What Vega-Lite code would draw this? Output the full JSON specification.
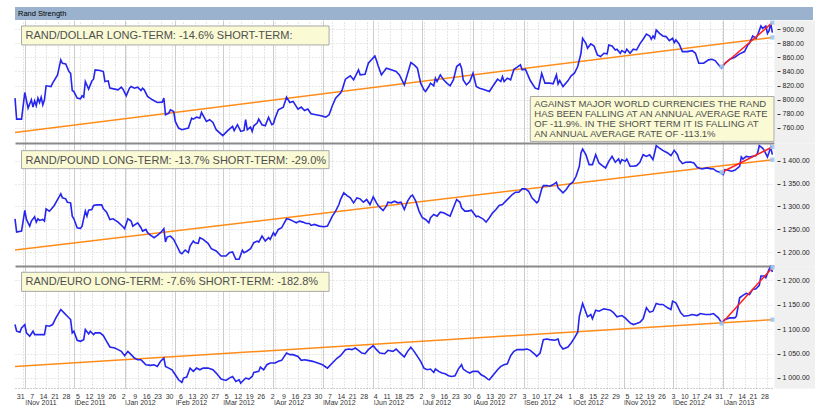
{
"$schema": "https://vega.github.io/schema/vega-lite/v6.json",
"background": "#FFFFFF",
"padding": {"left": 11, "top": 7, "right": 0, "bottom": 0},
"spacing": 0,
"bounds": "flush",
"config": {"font": "Liberation Sans", "view": {"stroke": null}},
"params": [
 {"name": "wk", "expr": "sequence(utc(2011,9,31), utc(2013,0,29), 604800000)"},
 {"name": "mo", "expr": "[utc(2011,10,1),utc(2011,11,1),utc(2012,0,1),utc(2012,1,1),utc(2012,2,1),utc(2012,3,1),utc(2012,4,1),utc(2012,5,1),utc(2012,6,1),utc(2012,7,1),utc(2012,8,1),utc(2012,9,1),utc(2012,10,1),utc(2012,11,1),utc(2013,0,1)]"},
 {"name": "gr", "expr": "[utc(2011,9,31),utc(2011,10,1),utc(2011,10,7),utc(2011,10,14),utc(2011,10,21),utc(2011,10,28),utc(2011,11,1),utc(2011,11,5),utc(2011,11,12),utc(2011,11,19),utc(2011,11,26),utc(2012,0,1),utc(2012,0,2),utc(2012,0,9),utc(2012,0,16),utc(2012,0,23),utc(2012,0,30),utc(2012,1,1),utc(2012,1,6),utc(2012,1,13),utc(2012,1,20),utc(2012,1,27),utc(2012,2,1),utc(2012,2,5),utc(2012,2,12),utc(2012,2,19),utc(2012,2,26),utc(2012,3,1),utc(2012,3,2),utc(2012,3,9),utc(2012,3,16),utc(2012,3,23),utc(2012,3,30),utc(2012,4,1),utc(2012,4,7),utc(2012,4,14),utc(2012,4,21),utc(2012,4,28),utc(2012,5,1),utc(2012,5,4),utc(2012,5,11),utc(2012,5,18),utc(2012,5,25),utc(2012,6,1),utc(2012,6,2),utc(2012,6,9),utc(2012,6,16),utc(2012,6,23),utc(2012,6,30),utc(2012,7,1),utc(2012,7,6),utc(2012,7,13),utc(2012,7,20),utc(2012,7,27),utc(2012,8,1),utc(2012,8,3),utc(2012,8,10),utc(2012,8,17),utc(2012,8,24),utc(2012,9,1),utc(2012,9,8),utc(2012,9,15),utc(2012,9,22),utc(2012,9,29),utc(2012,10,1),utc(2012,10,5),utc(2012,10,12),utc(2012,10,19),utc(2012,10,26),utc(2012,11,1),utc(2012,11,3),utc(2012,11,10),utc(2012,11,17),utc(2012,11,24),utc(2012,11,31),utc(2013,0,1),utc(2013,0,7),utc(2013,0,14),utc(2013,0,21),utc(2013,0,28)]"}
],
"datasets": {
 "usd": [
  {"d":"2011-10-26","v":802.1},{"d":"2011-10-27","v":772.3},{"d":"2011-10-30","v":772.3},{"d":"2011-11-01","v":810.1},{"d":"2011-11-03","v":787.9},{"d":"2011-11-05","v":799.7},{"d":"2011-11-06","v":789.3},{"d":"2011-11-07","v":798.3},{"d":"2011-11-08","v":791.2},{"d":"2011-11-09","v":802.1},{"d":"2011-11-10","v":795.9},{"d":"2011-11-11","v":803.5},{"d":"2011-11-12","v":792.6},{"d":"2011-11-13","v":799.7},{"d":"2011-11-14","v":819.6},{"d":"2011-11-17","v":818.6},{"d":"2011-11-18","v":823.4},{"d":"2011-11-21","v":835.2},{"d":"2011-11-23","v":856.5},{"d":"2011-11-24","v":851.7},{"d":"2011-11-26","v":850.8},{"d":"2011-11-28","v":839.9},{"d":"2011-11-29","v":837.5},{"d":"2011-11-30","v":813.0},{"d":"2011-12-01","v":811.5},{"d":"2011-12-03","v":802.1},{"d":"2011-12-05","v":801.1},{"d":"2011-12-06","v":805.4},{"d":"2011-12-07","v":803.5},{"d":"2011-12-08","v":825.7},{"d":"2011-12-10","v":814.9},{"d":"2011-12-12","v":826.7},{"d":"2011-12-13","v":829.0},{"d":"2011-12-14","v":842.3},{"d":"2011-12-17","v":841.3},{"d":"2011-12-19","v":839.9},{"d":"2011-12-20","v":825.7},{"d":"2011-12-22","v":826.7},{"d":"2011-12-23","v":816.3},{"d":"2011-12-26","v":814.9},{"d":"2011-12-28","v":813.9},{"d":"2011-12-30","v":817.7},{"d":"2011-12-31","v":814.9},{"d":"2012-01-02","v":805.4},{"d":"2012-01-04","v":816.3},{"d":"2012-01-05","v":818.6},{"d":"2012-01-07","v":816.3},{"d":"2012-01-09","v":817.7},{"d":"2012-01-11","v":813.0},{"d":"2012-01-12","v":816.3},{"d":"2012-01-13","v":813.9},{"d":"2012-01-15","v":804.5},{"d":"2012-01-18","v":799.7},{"d":"2012-01-21","v":795.9},{"d":"2012-01-24","v":796.4},{"d":"2012-01-25","v":802.1},{"d":"2012-01-26","v":778.4},{"d":"2012-01-28","v":780.8},{"d":"2012-01-29","v":785.5},{"d":"2012-01-31","v":783.2},{"d":"2012-02-01","v":769.0},{"d":"2012-02-03","v":759.5},{"d":"2012-02-05","v":757.2},{"d":"2012-02-09","v":759.5},{"d":"2012-02-11","v":773.7},{"d":"2012-02-12","v":772.3},{"d":"2012-02-14","v":775.1},{"d":"2012-02-16","v":773.7},{"d":"2012-02-17","v":781.8},{"d":"2012-02-20","v":769.0},{"d":"2012-02-22","v":771.4},{"d":"2012-02-24","v":767.6},{"d":"2012-02-26","v":757.2},{"d":"2012-03-01","v":748.7},{"d":"2012-03-03","v":753.4},{"d":"2012-03-04","v":755.8},{"d":"2012-03-07","v":761.9},{"d":"2012-03-08","v":755.8},{"d":"2012-03-10","v":764.3},{"d":"2012-03-12","v":754.8},{"d":"2012-03-14","v":756.2},{"d":"2012-03-15","v":771.4},{"d":"2012-03-16","v":757.2},{"d":"2012-03-18","v":761.0},{"d":"2012-03-19","v":754.8},{"d":"2012-03-20","v":762.8},{"d":"2012-03-22","v":766.6},{"d":"2012-03-23","v":772.3},{"d":"2012-03-25","v":764.3},{"d":"2012-03-27","v":762.8},{"d":"2012-03-29","v":774.7},{"d":"2012-03-31","v":764.3},{"d":"2012-04-01","v":765.7},{"d":"2012-04-02","v":773.7},{"d":"2012-04-04","v":785.5},{"d":"2012-04-07","v":789.3},{"d":"2012-04-09","v":803.5},{"d":"2012-04-11","v":795.9},{"d":"2012-04-13","v":797.4},{"d":"2012-04-16","v":786.5},{"d":"2012-04-18","v":789.3},{"d":"2012-04-20","v":784.6},{"d":"2012-04-22","v":786.5},{"d":"2012-04-24","v":779.9},{"d":"2012-04-27","v":778.4},{"d":"2012-04-30","v":777.0},{"d":"2012-05-03","v":775.1},{"d":"2012-05-05","v":778.4},{"d":"2012-05-07","v":791.2},{"d":"2012-05-09","v":802.1},{"d":"2012-05-12","v":809.2},{"d":"2012-05-13","v":813.9},{"d":"2012-05-15","v":829.0},{"d":"2012-05-18","v":833.8},{"d":"2012-05-20","v":828.1},{"d":"2012-05-23","v":842.3},{"d":"2012-05-24","v":835.2},{"d":"2012-05-27","v":836.1},{"d":"2012-05-29","v":851.7},{"d":"2012-06-02","v":862.1},{"d":"2012-06-03","v":855.5},{"d":"2012-06-04","v":848.0},{"d":"2012-06-06","v":835.2},{"d":"2012-06-09","v":844.6},{"d":"2012-06-12","v":842.3},{"d":"2012-06-15","v":839.9},{"d":"2012-06-17","v":835.2},{"d":"2012-06-20","v":821.0},{"d":"2012-06-24","v":852.7},{"d":"2012-06-26","v":849.4},{"d":"2012-06-28","v":844.6},{"d":"2012-06-30","v":823.4},{"d":"2012-07-02","v":813.9},{"d":"2012-07-03","v":811.5},{"d":"2012-07-05","v":818.6},{"d":"2012-07-06","v":823.4},{"d":"2012-07-08","v":819.6},{"d":"2012-07-09","v":830.5},{"d":"2012-07-10","v":825.7},{"d":"2012-07-12","v":835.2},{"d":"2012-07-14","v":828.1},{"d":"2012-07-16","v":823.4},{"d":"2012-07-18","v":819.6},{"d":"2012-07-20","v":828.1},{"d":"2012-07-22","v":847.0},{"d":"2012-07-24","v":850.8},{"d":"2012-07-25","v":844.6},{"d":"2012-07-26","v":828.1},{"d":"2012-07-28","v":821.0},{"d":"2012-07-30","v":825.7},{"d":"2012-08-01","v":837.5},{"d":"2012-08-03","v":818.6},{"d":"2012-08-05","v":816.3},{"d":"2012-08-08","v":813.9},{"d":"2012-08-11","v":811.5},{"d":"2012-08-13","v":818.6},{"d":"2012-08-16","v":829.0},{"d":"2012-08-18","v":825.7},{"d":"2012-08-19","v":832.8},{"d":"2012-08-20","v":825.7},{"d":"2012-08-22","v":830.5},{"d":"2012-08-24","v":828.1},{"d":"2012-08-26","v":843.2},{"d":"2012-08-28","v":846.1},{"d":"2012-08-30","v":849.4},{"d":"2012-08-31","v":842.3},{"d":"2012-09-02","v":843.2},{"d":"2012-09-05","v":827.1},{"d":"2012-09-08","v":816.3},{"d":"2012-09-10","v":814.9},{"d":"2012-09-12","v":837.5},{"d":"2012-09-14","v":823.4},{"d":"2012-09-17","v":823.4},{"d":"2012-09-19","v":822.4},{"d":"2012-09-21","v":835.2},{"d":"2012-09-22","v":822.4},{"d":"2012-09-23","v":827.1},{"d":"2012-09-25","v":818.6},{"d":"2012-09-28","v":826.7},{"d":"2012-09-30","v":833.8},{"d":"2012-10-02","v":837.5},{"d":"2012-10-04","v":847.0},{"d":"2012-10-06","v":865.9},{"d":"2012-10-07","v":887.2},{"d":"2012-10-09","v":880.1},{"d":"2012-10-10","v":873.0},{"d":"2012-10-12","v":879.2},{"d":"2012-10-14","v":876.3},{"d":"2012-10-16","v":863.6},{"d":"2012-10-18","v":861.2},{"d":"2012-10-20","v":865.9},{"d":"2012-10-22","v":865.0},{"d":"2012-10-23","v":877.7},{"d":"2012-10-25","v":876.3},{"d":"2012-10-27","v":870.6},{"d":"2012-10-28","v":871.6},{"d":"2012-10-30","v":865.9},{"d":"2012-10-31","v":869.7},{"d":"2012-11-02","v":866.9},{"d":"2012-11-03","v":871.6},{"d":"2012-11-05","v":865.9},{"d":"2012-11-07","v":871.6},{"d":"2012-11-09","v":870.6},{"d":"2012-11-11","v":879.2},{"d":"2012-11-13","v":885.8},{"d":"2012-11-15","v":893.3},{"d":"2012-11-17","v":890.5},{"d":"2012-11-18","v":885.8},{"d":"2012-11-19","v":890.5},{"d":"2012-11-20","v":887.2},{"d":"2012-11-21","v":899.0},{"d":"2012-11-23","v":894.3},{"d":"2012-11-25","v":890.5},{"d":"2012-11-27","v":889.6},{"d":"2012-11-29","v":883.9},{"d":"2012-12-01","v":887.2},{"d":"2012-12-02","v":881.0},{"d":"2012-12-03","v":884.8},{"d":"2012-12-05","v":879.2},{"d":"2012-12-07","v":868.3},{"d":"2012-12-10","v":868.3},{"d":"2012-12-13","v":869.7},{"d":"2012-12-15","v":865.9},{"d":"2012-12-17","v":851.7},{"d":"2012-12-20","v":851.7},{"d":"2012-12-23","v":856.5},{"d":"2012-12-25","v":857.4},{"d":"2012-12-27","v":855.5},{"d":"2012-12-30","v":847.0},{"d":"2012-12-31","v":844.6},{"d":"2013-01-02","v":851.7},{"d":"2013-01-05","v":857.4},{"d":"2013-01-08","v":860.2},{"d":"2013-01-11","v":865.0},{"d":"2013-01-14","v":868.3},{"d":"2013-01-16","v":877.7},{"d":"2013-01-17","v":880.1},{"d":"2013-01-19","v":890.5},{"d":"2013-01-21","v":887.2},{"d":"2013-01-22","v":891.9},{"d":"2013-01-24","v":904.7},{"d":"2013-01-25","v":901.4},{"d":"2013-01-27","v":904.7},{"d":"2013-01-28","v":894.3},{"d":"2013-01-29","v":898.1},{"d":"2013-01-30","v":908.5},{"d":"2013-01-31","v":895.2}
 ],
 "gbp": [
  {"d":"2011-10-26","v":1273.2},{"d":"2011-10-27","v":1244.2},{"d":"2011-10-30","v":1246.4},{"d":"2011-11-01","v":1291.3},{"d":"2011-11-02","v":1271.7},{"d":"2011-11-04","v":1257.2},{"d":"2011-11-05","v":1268.1},{"d":"2011-11-07","v":1277.5},{"d":"2011-11-08","v":1265.9},{"d":"2011-11-09","v":1273.2},{"d":"2011-11-10","v":1269.6},{"d":"2011-11-12","v":1271.7},{"d":"2011-11-13","v":1268.1},{"d":"2011-11-14","v":1294.9},{"d":"2011-11-16","v":1289.9},{"d":"2011-11-17","v":1293.5},{"d":"2011-11-19","v":1302.2},{"d":"2011-11-21","v":1315.2},{"d":"2011-11-23","v":1327.5},{"d":"2011-11-24","v":1318.8},{"d":"2011-11-26","v":1316.7},{"d":"2011-11-27","v":1309.4},{"d":"2011-11-29","v":1308.0},{"d":"2011-11-30","v":1279.0},{"d":"2011-12-01","v":1273.2},{"d":"2011-12-03","v":1253.6},{"d":"2011-12-05","v":1252.2},{"d":"2011-12-06","v":1257.2},{"d":"2011-12-08","v":1289.9},{"d":"2011-12-09","v":1279.0},{"d":"2011-12-10","v":1292.0},{"d":"2011-12-12","v":1293.5},{"d":"2011-12-13","v":1302.2},{"d":"2011-12-15","v":1303.6},{"d":"2011-12-18","v":1303.6},{"d":"2011-12-19","v":1294.9},{"d":"2011-12-21","v":1287.7},{"d":"2011-12-23","v":1271.7},{"d":"2011-12-25","v":1273.2},{"d":"2011-12-28","v":1265.9},{"d":"2011-12-31","v":1255.8},{"d":"2012-01-01","v":1251.5},{"d":"2012-01-03","v":1273.2},{"d":"2012-01-05","v":1268.1},{"d":"2012-01-06","v":1257.2},{"d":"2012-01-09","v":1264.5},{"d":"2012-01-11","v":1253.6},{"d":"2012-01-12","v":1246.4},{"d":"2012-01-14","v":1250.0},{"d":"2012-01-15","v":1242.8},{"d":"2012-01-17","v":1237.0},{"d":"2012-01-19","v":1231.9},{"d":"2012-01-21","v":1237.0},{"d":"2012-01-23","v":1242.8},{"d":"2012-01-25","v":1251.5},{"d":"2012-01-26","v":1222.5},{"d":"2012-01-27","v":1233.3},{"d":"2012-01-29","v":1235.5},{"d":"2012-01-31","v":1228.3},{"d":"2012-02-02","v":1213.8},{"d":"2012-02-04","v":1199.3},{"d":"2012-02-05","v":1197.1},{"d":"2012-02-07","v":1205.1},{"d":"2012-02-09","v":1199.3},{"d":"2012-02-10","v":1213.8},{"d":"2012-02-12","v":1224.6},{"d":"2012-02-13","v":1221.0},{"d":"2012-02-15","v":1219.6},{"d":"2012-02-16","v":1231.9},{"d":"2012-02-18","v":1228.3},{"d":"2012-02-21","v":1219.6},{"d":"2012-02-23","v":1208.0},{"d":"2012-02-26","v":1202.9},{"d":"2012-02-29","v":1192.0},{"d":"2012-03-03","v":1192.0},{"d":"2012-03-05","v":1199.3},{"d":"2012-03-07","v":1200.7},{"d":"2012-03-09","v":1184.8},{"d":"2012-03-11","v":1184.8},{"d":"2012-03-13","v":1204.4},{"d":"2012-03-14","v":1199.3},{"d":"2012-03-16","v":1202.9},{"d":"2012-03-18","v":1208.0},{"d":"2012-03-20","v":1221.0},{"d":"2012-03-22","v":1224.6},{"d":"2012-03-23","v":1222.5},{"d":"2012-03-25","v":1235.5},{"d":"2012-03-27","v":1224.6},{"d":"2012-03-29","v":1231.9},{"d":"2012-03-30","v":1228.3},{"d":"2012-04-01","v":1242.8},{"d":"2012-04-02","v":1237.0},{"d":"2012-04-04","v":1250.0},{"d":"2012-04-06","v":1253.6},{"d":"2012-04-09","v":1273.2},{"d":"2012-04-11","v":1271.7},{"d":"2012-04-13","v":1268.1},{"d":"2012-04-15","v":1264.5},{"d":"2012-04-17","v":1268.1},{"d":"2012-04-19","v":1265.9},{"d":"2012-04-21","v":1263.0},{"d":"2012-04-23","v":1263.0},{"d":"2012-04-24","v":1258.7},{"d":"2012-04-26","v":1260.9},{"d":"2012-04-29","v":1257.2},{"d":"2012-05-02","v":1255.8},{"d":"2012-05-04","v":1257.2},{"d":"2012-05-07","v":1279.0},{"d":"2012-05-09","v":1289.9},{"d":"2012-05-11","v":1304.3},{"d":"2012-05-12","v":1315.2},{"d":"2012-05-14","v":1329.7},{"d":"2012-05-16","v":1323.9},{"d":"2012-05-18","v":1318.8},{"d":"2012-05-20","v":1308.0},{"d":"2012-05-22","v":1318.8},{"d":"2012-05-24","v":1316.7},{"d":"2012-05-26","v":1309.4},{"d":"2012-05-28","v":1315.2},{"d":"2012-05-30","v":1304.3},{"d":"2012-06-01","v":1321.0},{"d":"2012-06-03","v":1308.0},{"d":"2012-06-04","v":1302.2},{"d":"2012-06-07","v":1291.3},{"d":"2012-06-09","v":1300.7},{"d":"2012-06-10","v":1309.4},{"d":"2012-06-12","v":1308.0},{"d":"2012-06-14","v":1311.6},{"d":"2012-06-16","v":1308.0},{"d":"2012-06-18","v":1309.4},{"d":"2012-06-20","v":1293.5},{"d":"2012-06-22","v":1311.6},{"d":"2012-06-24","v":1322.5},{"d":"2012-06-25","v":1324.6},{"d":"2012-06-27","v":1311.6},{"d":"2012-06-29","v":1289.9},{"d":"2012-07-01","v":1275.4},{"d":"2012-07-03","v":1271.7},{"d":"2012-07-05","v":1264.5},{"d":"2012-07-06","v":1275.4},{"d":"2012-07-08","v":1282.6},{"d":"2012-07-10","v":1279.0},{"d":"2012-07-12","v":1287.7},{"d":"2012-07-14","v":1286.2},{"d":"2012-07-16","v":1282.6},{"d":"2012-07-18","v":1279.0},{"d":"2012-07-20","v":1297.1},{"d":"2012-07-22","v":1315.2},{"d":"2012-07-24","v":1309.4},{"d":"2012-07-25","v":1297.1},{"d":"2012-07-27","v":1289.9},{"d":"2012-07-29","v":1289.9},{"d":"2012-07-31","v":1292.0},{"d":"2012-08-03","v":1277.5},{"d":"2012-08-04","v":1279.0},{"d":"2012-08-07","v":1273.2},{"d":"2012-08-09","v":1265.9},{"d":"2012-08-11","v":1275.4},{"d":"2012-08-13","v":1286.2},{"d":"2012-08-15","v":1293.5},{"d":"2012-08-17","v":1302.2},{"d":"2012-08-19","v":1304.3},{"d":"2012-08-21","v":1311.6},{"d":"2012-08-23","v":1318.8},{"d":"2012-08-25","v":1326.1},{"d":"2012-08-27","v":1331.2},{"d":"2012-08-29","v":1331.2},{"d":"2012-08-31","v":1338.4},{"d":"2012-09-02","v":1338.4},{"d":"2012-09-04","v":1333.3},{"d":"2012-09-06","v":1318.8},{"d":"2012-09-09","v":1308.0},{"d":"2012-09-10","v":1311.6},{"d":"2012-09-12","v":1338.4},{"d":"2012-09-13","v":1345.6},{"d":"2012-09-15","v":1345.6},{"d":"2012-09-17","v":1344.2},{"d":"2012-09-19","v":1347.8},{"d":"2012-09-21","v":1352.9},{"d":"2012-09-22","v":1340.6},{"d":"2012-09-25","v":1329.7},{"d":"2012-09-27","v":1337.0},{"d":"2012-09-29","v":1347.8},{"d":"2012-10-01","v":1352.9},{"d":"2012-10-03","v":1365.9},{"d":"2012-10-05","v":1387.7},{"d":"2012-10-06","v":1416.7},{"d":"2012-10-07","v":1425.4},{"d":"2012-10-09","v":1413.0},{"d":"2012-10-11","v":1391.3},{"d":"2012-10-13","v":1391.3},{"d":"2012-10-15","v":1413.0},{"d":"2012-10-17","v":1394.9},{"d":"2012-10-19","v":1389.1},{"d":"2012-10-21","v":1384.1},{"d":"2012-10-23","v":1398.5},{"d":"2012-10-25","v":1409.4},{"d":"2012-10-27","v":1396.4},{"d":"2012-10-29","v":1403.6},{"d":"2012-10-30","v":1394.9},{"d":"2012-10-31","v":1402.2},{"d":"2012-11-02","v":1398.5},{"d":"2012-11-03","v":1403.6},{"d":"2012-11-05","v":1387.7},{"d":"2012-11-07","v":1387.7},{"d":"2012-11-09","v":1389.1},{"d":"2012-11-11","v":1396.4},{"d":"2012-11-13","v":1413.0},{"d":"2012-11-15","v":1409.4},{"d":"2012-11-17","v":1413.0},{"d":"2012-11-19","v":1402.2},{"d":"2012-11-20","v":1416.7},{"d":"2012-11-21","v":1432.6},{"d":"2012-11-23","v":1427.5},{"d":"2012-11-25","v":1422.5},{"d":"2012-11-28","v":1416.7},{"d":"2012-11-30","v":1410.9},{"d":"2012-12-02","v":1422.5},{"d":"2012-12-04","v":1413.0},{"d":"2012-12-05","v":1402.2},{"d":"2012-12-07","v":1393.5},{"d":"2012-12-09","v":1396.4},{"d":"2012-12-12","v":1397.1},{"d":"2012-12-14","v":1394.9},{"d":"2012-12-16","v":1385.5},{"d":"2012-12-19","v":1381.9},{"d":"2012-12-22","v":1384.1},{"d":"2012-12-24","v":1382.6},{"d":"2012-12-26","v":1381.9},{"d":"2012-12-28","v":1376.8},{"d":"2012-12-30","v":1374.6},{"d":"2013-01-01","v":1369.6},{"d":"2013-01-02","v":1380.4},{"d":"2013-01-04","v":1379.0},{"d":"2013-01-06","v":1376.8},{"d":"2013-01-08","v":1379.0},{"d":"2013-01-11","v":1387.7},{"d":"2013-01-12","v":1408.0},{"d":"2013-01-13","v":1403.6},{"d":"2013-01-15","v":1409.4},{"d":"2013-01-17","v":1408.0},{"d":"2013-01-19","v":1409.4},{"d":"2013-01-21","v":1410.9},{"d":"2013-01-22","v":1416.7},{"d":"2013-01-23","v":1432.6},{"d":"2013-01-25","v":1427.5},{"d":"2013-01-26","v":1422.5},{"d":"2013-01-28","v":1408.0},{"d":"2013-01-29","v":1418.1},{"d":"2013-01-30","v":1429.0},{"d":"2013-01-31","v":1413.0}
 ],
 "eur": [
  {"d":"2011-10-26","v":1109.4},{"d":"2011-10-27","v":1095.7},{"d":"2011-10-29","v":1093.6},{"d":"2011-10-30","v":1102.5},{"d":"2011-11-01","v":1109.4},{"d":"2011-11-02","v":1092.3},{"d":"2011-11-04","v":1085.4},{"d":"2011-11-06","v":1095.7},{"d":"2011-11-07","v":1088.8},{"d":"2011-11-09","v":1088.8},{"d":"2011-11-12","v":1088.8},{"d":"2011-11-13","v":1088.8},{"d":"2011-11-14","v":1107.3},{"d":"2011-11-16","v":1106.0},{"d":"2011-11-18","v":1109.4},{"d":"2011-11-20","v":1123.1},{"d":"2011-11-23","v":1140.3},{"d":"2011-11-25","v":1133.4},{"d":"2011-11-27","v":1126.5},{"d":"2011-11-29","v":1119.7},{"d":"2011-11-30","v":1092.3},{"d":"2011-12-01","v":1095.7},{"d":"2011-12-03","v":1077.2},{"d":"2011-12-05","v":1075.1},{"d":"2011-12-07","v":1078.5},{"d":"2011-12-08","v":1099.1},{"d":"2011-12-10","v":1090.2},{"d":"2011-12-11","v":1095.7},{"d":"2011-12-13","v":1088.8},{"d":"2011-12-14","v":1092.3},{"d":"2011-12-17","v":1092.3},{"d":"2011-12-19","v":1086.8},{"d":"2011-12-21","v":1075.1},{"d":"2011-12-23","v":1063.4},{"d":"2011-12-26","v":1061.4},{"d":"2011-12-28","v":1058.0},{"d":"2011-12-30","v":1054.5},{"d":"2012-01-01","v":1045.6},{"d":"2012-01-03","v":1054.5},{"d":"2012-01-05","v":1047.7},{"d":"2012-01-07","v":1040.8},{"d":"2012-01-09","v":1037.4},{"d":"2012-01-11","v":1037.4},{"d":"2012-01-12","v":1034.0},{"d":"2012-01-14","v":1027.1},{"d":"2012-01-17","v":1025.7},{"d":"2012-01-19","v":1027.1},{"d":"2012-01-21","v":1023.7},{"d":"2012-01-23","v":1034.0},{"d":"2012-01-25","v":1040.8},{"d":"2012-01-26","v":1023.7},{"d":"2012-01-28","v":1020.2},{"d":"2012-01-30","v":1016.8},{"d":"2012-02-01","v":1006.5},{"d":"2012-02-03","v":996.2},{"d":"2012-02-05","v":990.7},{"d":"2012-02-06","v":999.7},{"d":"2012-02-08","v":1001.7},{"d":"2012-02-10","v":1020.2},{"d":"2012-02-12","v":1013.4},{"d":"2012-02-14","v":1020.2},{"d":"2012-02-16","v":1016.8},{"d":"2012-02-18","v":1020.2},{"d":"2012-02-21","v":1020.2},{"d":"2012-02-24","v":1016.8},{"d":"2012-02-26","v":1010.0},{"d":"2012-02-29","v":997.6},{"d":"2012-03-03","v":994.9},{"d":"2012-03-05","v":999.7},{"d":"2012-03-07","v":1003.1},{"d":"2012-03-09","v":992.8},{"d":"2012-03-11","v":996.2},{"d":"2012-03-12","v":989.4},{"d":"2012-03-14","v":996.2},{"d":"2012-03-15","v":999.7},{"d":"2012-03-17","v":997.6},{"d":"2012-03-19","v":1003.1},{"d":"2012-03-20","v":1011.3},{"d":"2012-03-23","v":1013.4},{"d":"2012-03-24","v":1022.3},{"d":"2012-03-26","v":1016.8},{"d":"2012-03-28","v":1027.1},{"d":"2012-03-30","v":1030.5},{"d":"2012-04-01","v":1030.5},{"d":"2012-04-02","v":1030.5},{"d":"2012-04-04","v":1034.0},{"d":"2012-04-06","v":1036.0},{"d":"2012-04-09","v":1051.1},{"d":"2012-04-11","v":1047.7},{"d":"2012-04-13","v":1047.7},{"d":"2012-04-16","v":1044.2},{"d":"2012-04-18","v":1036.0},{"d":"2012-04-20","v":1037.4},{"d":"2012-04-22","v":1036.0},{"d":"2012-04-25","v":1034.0},{"d":"2012-04-28","v":1030.5},{"d":"2012-05-01","v":1027.1},{"d":"2012-05-04","v":1020.2},{"d":"2012-05-07","v":1030.5},{"d":"2012-05-10","v":1040.8},{"d":"2012-05-12","v":1045.6},{"d":"2012-05-15","v":1058.0},{"d":"2012-05-17","v":1059.3},{"d":"2012-05-19","v":1058.0},{"d":"2012-05-21","v":1061.4},{"d":"2012-05-23","v":1056.6},{"d":"2012-05-25","v":1051.1},{"d":"2012-05-27","v":1049.7},{"d":"2012-05-29","v":1058.0},{"d":"2012-06-01","v":1066.2},{"d":"2012-06-03","v":1058.0},{"d":"2012-06-05","v":1051.1},{"d":"2012-06-08","v":1049.7},{"d":"2012-06-10","v":1056.6},{"d":"2012-06-13","v":1054.5},{"d":"2012-06-15","v":1059.3},{"d":"2012-06-17","v":1052.5},{"d":"2012-06-20","v":1042.9},{"d":"2012-06-22","v":1054.5},{"d":"2012-06-24","v":1062.8},{"d":"2012-06-26","v":1054.5},{"d":"2012-06-28","v":1044.2},{"d":"2012-06-30","v":1034.0},{"d":"2012-07-02","v":1020.2},{"d":"2012-07-04","v":1016.8},{"d":"2012-07-06","v":1018.2},{"d":"2012-07-08","v":1011.3},{"d":"2012-07-09","v":1018.2},{"d":"2012-07-11","v":1013.4},{"d":"2012-07-13","v":1010.0},{"d":"2012-07-15","v":1008.6},{"d":"2012-07-17","v":1004.5},{"d":"2012-07-19","v":1003.1},{"d":"2012-07-21","v":1004.5},{"d":"2012-07-23","v":1018.2},{"d":"2012-07-25","v":1027.1},{"d":"2012-07-26","v":1018.2},{"d":"2012-07-28","v":1013.4},{"d":"2012-07-30","v":1010.0},{"d":"2012-08-01","v":1013.4},{"d":"2012-08-04","v":1013.4},{"d":"2012-08-06","v":1006.5},{"d":"2012-08-08","v":1003.1},{"d":"2012-08-10","v":997.6},{"d":"2012-08-11","v":996.2},{"d":"2012-08-13","v":1004.5},{"d":"2012-08-16","v":1016.8},{"d":"2012-08-18","v":1023.7},{"d":"2012-08-20","v":1027.1},{"d":"2012-08-22","v":1029.1},{"d":"2012-08-24","v":1045.6},{"d":"2012-08-26","v":1054.5},{"d":"2012-08-28","v":1058.0},{"d":"2012-08-30","v":1058.0},{"d":"2012-09-01","v":1058.0},{"d":"2012-09-03","v":1059.3},{"d":"2012-09-05","v":1056.6},{"d":"2012-09-08","v":1047.7},{"d":"2012-09-09","v":1044.2},{"d":"2012-09-11","v":1051.1},{"d":"2012-09-13","v":1078.5},{"d":"2012-09-15","v":1079.9},{"d":"2012-09-17","v":1078.5},{"d":"2012-09-20","v":1077.2},{"d":"2012-09-22","v":1079.9},{"d":"2012-09-23","v":1068.2},{"d":"2012-09-25","v":1059.3},{"d":"2012-09-28","v":1063.4},{"d":"2012-09-30","v":1071.7},{"d":"2012-10-02","v":1082.0},{"d":"2012-10-04","v":1093.6},{"d":"2012-10-05","v":1126.5},{"d":"2012-10-07","v":1152.6},{"d":"2012-10-09","v":1134.8},{"d":"2012-10-10","v":1125.2},{"d":"2012-10-12","v":1130.0},{"d":"2012-10-13","v":1121.1},{"d":"2012-10-15","v":1138.9},{"d":"2012-10-17","v":1136.8},{"d":"2012-10-20","v":1141.6},{"d":"2012-10-22","v":1140.3},{"d":"2012-10-24","v":1138.9},{"d":"2012-10-26","v":1133.4},{"d":"2012-10-28","v":1125.2},{"d":"2012-10-31","v":1127.9},{"d":"2012-11-02","v":1123.1},{"d":"2012-11-05","v":1112.8},{"d":"2012-11-07","v":1109.4},{"d":"2012-11-09","v":1111.5},{"d":"2012-11-11","v":1114.2},{"d":"2012-11-13","v":1121.1},{"d":"2012-11-15","v":1143.7},{"d":"2012-11-17","v":1134.8},{"d":"2012-11-19","v":1136.8},{"d":"2012-11-21","v":1152.6},{"d":"2012-11-23","v":1150.6},{"d":"2012-11-25","v":1150.6},{"d":"2012-11-28","v":1143.7},{"d":"2012-11-30","v":1140.3},{"d":"2012-12-01","v":1157.4},{"d":"2012-12-03","v":1154.0},{"d":"2012-12-04","v":1147.1},{"d":"2012-12-06","v":1133.4},{"d":"2012-12-08","v":1126.5},{"d":"2012-12-11","v":1127.9},{"d":"2012-12-13","v":1130.0},{"d":"2012-12-16","v":1127.9},{"d":"2012-12-18","v":1132.0},{"d":"2012-12-21","v":1130.0},{"d":"2012-12-24","v":1130.0},{"d":"2012-12-26","v":1132.0},{"d":"2012-12-29","v":1123.1},{"d":"2012-12-31","v":1112.8},{"d":"2013-01-02","v":1119.7},{"d":"2013-01-05","v":1123.1},{"d":"2013-01-08","v":1123.1},{"d":"2013-01-09","v":1126.5},{"d":"2013-01-11","v":1164.3},{"d":"2013-01-13","v":1169.1},{"d":"2013-01-15","v":1173.2},{"d":"2013-01-17","v":1171.1},{"d":"2013-01-19","v":1181.4},{"d":"2013-01-21","v":1182.8},{"d":"2013-01-23","v":1189.6},{"d":"2013-01-24","v":1208.9},{"d":"2013-01-26","v":1208.9},{"d":"2013-01-27","v":1205.4},{"d":"2013-01-29","v":1222.6},{"d":"2013-01-30","v":1228.1},{"d":"2013-01-31","v":1217.1}
 ],
 "trend": [
  {"p":"usd","k":"long","d":"2011-10-26","v":753.4},{"p":"usd","k":"long","d":"2013-01-31","v":888.4},
  {"p":"usd","k":"short","d":"2012-12-31","v":847.0},{"p":"usd","k":"short","d":"2013-01-31","v":909.4},
  {"p":"gbp","k":"long","d":"2011-10-26","v":1205.1},{"p":"gbp","k":"long","d":"2013-01-31","v":1402.0},
  {"p":"gbp","k":"short","d":"2012-12-31","v":1374.6},{"p":"gbp","k":"short","d":"2013-01-31","v":1429.7},
  {"p":"eur","k":"long","d":"2011-10-26","v":1023.7},{"p":"eur","k":"long","d":"2013-01-31","v":1119.5},
  {"p":"eur","k":"short","d":"2012-12-31","v":1111.5},{"p":"eur","k":"short","d":"2013-01-31","v":1226.0}
 ],
 "notes": [
  {"p":"usd","k":"head","d0":"2011-10-30","d1":"2012-05-05","hi":904.7,"lo":877.7,"t":"RAND/DOLLAR LONG-TERM: -14.6% SHORT-TERM:"},
  {"p":"gbp","k":"head","d0":"2011-10-30","d1":"2012-05-05","hi":1421.8,"lo":1382.6,"t":"RAND/POUND LONG-TERM: -13.7% SHORT-TERM: -29.0%"},
  {"p":"eur","k":"head","d0":"2011-10-30","d1":"2012-05-05","hi":1216.5,"lo":1177.4,"t":"RAND/EURO LONG-TERM:  -7.6% SHORT-TERM: -182.8%"},
  {"p":"usd","k":"note","d0":"2012-09-05","d1":"2013-02-01","hi":804.4,"lo":740.6,"t":["AGAINST MAJOR WORLD CURRENCIES THE RAND","HAS BEEN FALLING AT AN ANNUAL AVERAGE RATE","OF -11.9%. IN THE SHORT TERM IT IS FALLING AT","AN ANNUAL AVERAGE RATE OF -113.1%"]}
 ]
},
"vconcat": [
 {
  "width": 798, "height": 13,
  "view": {"fill": "#9BB2CE", "stroke": null},
  "data": {"values": [{"t": "Rand Strength"}]},
  "mark": {"type": "text", "align": "left", "baseline": "middle", "dx": 3, "fontSize": 7.5, "color": "#000000"},
  "encoding": {
   "x": {"field": "t", "type": "nominal", "scale": {"type": "point", "padding": 0, "align": 0}, "axis": null},
   "text": {"field": "t"}
  }
 },
 {
  "width": 804, "height": 123,
  "encoding": {
   "x": {"field": "d", "type": "temporal", "scale": {"type": "utc", "domain": [{"year": 2011, "month": 10, "date": 26, "utc": true}, {"year": 2013, "month": 2, "date": 1, "utc": true}], "range": [0, 759]}, "axis": null},
   "y": {"field": "v", "type": "quantitative", "scale": {"domain": [738.3, 913.2], "zero": false, "nice": false}, "axis": null}
  },
  "resolve": {"axis": {"x": "independent", "y": "independent"}},
  "layer": [
   {"data": {"name": "trend"}, "transform": [{"filter": "datum.p == 'usd' && datum.k == 'long'"}],
    "mark": {"type": "line", "color": "#FF8C1A", "strokeWidth": 1.5},
    "encoding": {
     "x": {"field": "d", "type": "temporal", "scale": {"type": "utc", "domain": [{"year": 2011, "month": 10, "date": 26, "utc": true}, {"year": 2013, "month": 2, "date": 1, "utc": true}], "range": [0, 759]},
      "axis": {"orient": "top", "values": {"expr": "gr"}, "grid": true, "gridColor": {"condition": {"test": "utcdate(datum.value) == 1", "value": "#CDCDCD"}, "value": "#CACACA"}, "gridDash": {"condition": {"test": "utcdate(datum.value) == 1", "value": []}, "value": [1, 2]}, "labels": false, "ticks": false, "domain": false, "title": null}},
     "y": {"field": "v", "type": "quantitative", "scale": {"domain": [738.3, 913.2], "zero": false, "nice": false},
      "axis": {"orient": "right", "offset": -22.5, "domain": true, "domainColor": "#F0F0F0", "domainWidth": 45, "labels": false, "ticks": false, "grid": false, "title": null}}
    }},
   {"data": {"name": "usd"},
    "mark": {"type": "line", "color": "#2525EE", "strokeWidth": 1.6},
    "encoding": {
     "y": {"field": "v", "type": "quantitative", "scale": {"domain": [738.3, 913.2], "zero": false, "nice": false},
      "axis": {"orient": "right", "offset": -42, "values": [760, 780, 800, 820, 840, 860, 880, 900], "domain": false, "grid": false, "ticks": true, "tickSize": 3, "tickColor": "#333333", "labelPadding": 2, "labelFontSize": 7, "labelColor": "#222222", "labelExpr": "replace(format(datum.value, ',.2f'), ',', ' ')", "labelOverlap": false, "labelFlush": false, "title": null}}
    }},
   {"data": {"name": "trend"}, "transform": [{"filter": "datum.p == 'usd' && datum.k == 'short'"}],
    "mark": {"type": "line", "color": "#FF2020", "strokeWidth": 1.5},
    "encoding": {
     "y": {"field": "v", "type": "quantitative", "scale": {"domain": [738.3, 913.2], "zero": false, "nice": false},
      "axis": {"orient": "left", "values": [760, 780, 800, 820, 840, 860, 880, 900], "grid": true, "gridColor": "#D4D4D4", "gridDash": [1, 2], "labels": false, "ticks": false, "domain": false, "title": null}}
    }},
   {"data": {"name": "trend"}, "transform": [{"filter": "datum.p == 'usd' && (datum.k == 'short' || time(datum.d) > time(datetime(2013, 0, 1)))"}],
    "mark": {"type": "square", "size": 18, "color": "#9FC8EE", "opacity": 0.9}},
   {"data": {"name": "notes"}, "transform": [{"filter": "datum.p == 'usd'"}],
    "mark": {"type": "rect", "fill": "#FAFAD4", "stroke": "#A9A9A9", "strokeWidth": 1},
    "encoding": {
     "x": {"field": "d0", "type": "temporal", "scale": {"type": "utc", "domain": [{"year": 2011, "month": 10, "date": 26, "utc": true}, {"year": 2013, "month": 2, "date": 1, "utc": true}], "range": [0, 759]}, "axis": null},
     "x2": {"field": "d1"},
     "y": {"field": "hi", "type": "quantitative", "scale": {"domain": [738.3, 913.2], "zero": false, "nice": false}, "axis": null},
     "y2": {"field": "lo"}
    }},
   {"data": {"name": "notes"}, "transform": [{"filter": "datum.p == 'usd' && datum.k == 'head'"}],
    "mark": {"type": "text", "align": "left", "baseline": "top", "dx": 4, "dy": 4, "fontSize": 11, "color": "#4F4F4F"},
    "encoding": {
     "x": {"field": "d0", "type": "temporal", "scale": {"type": "utc", "domain": [{"year": 2011, "month": 10, "date": 26, "utc": true}, {"year": 2013, "month": 2, "date": 1, "utc": true}], "range": [0, 759]}, "axis": null},
     "y": {"field": "hi", "type": "quantitative", "scale": {"domain": [738.3, 913.2], "zero": false, "nice": false}, "axis": null},
     "text": {"field": "t"}
    }},
   {"data": {"name": "notes"}, "transform": [{"filter": "datum.p == 'usd' && datum.k == 'note'"}],
    "mark": {"type": "text", "align": "left", "baseline": "top", "dx": 4, "dy": 2, "fontSize": 9.5, "lineHeight": 10, "color": "#4F4F4F"},
    "encoding": {
     "x": {"field": "d0", "type": "temporal", "scale": {"type": "utc", "domain": [{"year": 2011, "month": 10, "date": 26, "utc": true}, {"year": 2013, "month": 2, "date": 1, "utc": true}], "range": [0, 759]}, "axis": null},
     "y": {"field": "hi", "type": "quantitative", "scale": {"domain": [738.3, 913.2], "zero": false, "nice": false}, "axis": null},
     "text": {"field": "t"}
    }}
  ]
 },
 {
  "width": 804, "height": 123,
  "encoding": {
   "x": {"field": "d", "type": "temporal", "scale": {"type": "utc", "domain": [{"year": 2011, "month": 10, "date": 26, "utc": true}, {"year": 2013, "month": 2, "date": 1, "utc": true}], "range": [0, 759]}, "axis": null},
   "y": {"field": "v", "type": "quantitative", "scale": {"domain": [1170.2, 1438.5], "zero": false, "nice": false}, "axis": null}
  },
  "resolve": {"axis": {"x": "independent", "y": "independent"}},
  "layer": [
   {"data": {"name": "trend"}, "transform": [{"filter": "datum.p == 'gbp' && datum.k == 'long'"}],
    "mark": {"type": "line", "color": "#FF8C1A", "strokeWidth": 1.5},
    "encoding": {
     "x": {"field": "d", "type": "temporal", "scale": {"type": "utc", "domain": [{"year": 2011, "month": 10, "date": 26, "utc": true}, {"year": 2013, "month": 2, "date": 1, "utc": true}], "range": [0, 759]},
      "axis": {"orient": "top", "values": {"expr": "gr"}, "grid": true, "gridColor": {"condition": {"test": "utcdate(datum.value) == 1", "value": "#CDCDCD"}, "value": "#CACACA"}, "gridDash": {"condition": {"test": "utcdate(datum.value) == 1", "value": []}, "value": [1, 2]}, "labels": false, "ticks": false, "domain": true, "domainColor": "#8A8A8A", "domainWidth": 2, "title": null}},
     "y": {"field": "v", "type": "quantitative", "scale": {"domain": [1170.2, 1438.5], "zero": false, "nice": false},
      "axis": {"orient": "right", "offset": -22.5, "domain": true, "domainColor": "#F0F0F0", "domainWidth": 45, "labels": false, "ticks": false, "grid": false, "title": null}}
    }},
   {"data": {"name": "gbp"},
    "mark": {"type": "line", "color": "#2525EE", "strokeWidth": 1.6},
    "encoding": {
     "y": {"field": "v", "type": "quantitative", "scale": {"domain": [1170.2, 1438.5], "zero": false, "nice": false},
      "axis": {"orient": "right", "offset": -42, "values": [1200, 1250, 1300, 1350, 1400], "domain": false, "grid": false, "ticks": true, "tickSize": 3, "tickColor": "#333333", "labelPadding": 2, "labelFontSize": 7, "labelColor": "#222222", "labelExpr": "replace(format(datum.value, ',.2f'), ',', ' ')", "labelOverlap": false, "labelFlush": false, "title": null}}
    }},
   {"data": {"name": "trend"}, "transform": [{"filter": "datum.p == 'gbp' && datum.k == 'short'"}],
    "mark": {"type": "line", "color": "#FF2020", "strokeWidth": 1.5},
    "encoding": {
     "y": {"field": "v", "type": "quantitative", "scale": {"domain": [1170.2, 1438.5], "zero": false, "nice": false},
      "axis": {"orient": "left", "values": [1200, 1250, 1300, 1350, 1400], "grid": true, "gridColor": "#D4D4D4", "gridDash": [1, 2], "labels": false, "ticks": false, "domain": false, "title": null}}
    }},
   {"data": {"name": "trend"}, "transform": [{"filter": "datum.p == 'gbp' && (datum.k == 'short' || time(datum.d) > time(datetime(2013, 0, 1)))"}],
    "mark": {"type": "square", "size": 18, "color": "#9FC8EE", "opacity": 0.9}},
   {"data": {"name": "notes"}, "transform": [{"filter": "datum.p == 'gbp'"}],
    "mark": {"type": "rect", "fill": "#FAFAD4", "stroke": "#A9A9A9", "strokeWidth": 1},
    "encoding": {
     "x": {"field": "d0", "type": "temporal", "scale": {"type": "utc", "domain": [{"year": 2011, "month": 10, "date": 26, "utc": true}, {"year": 2013, "month": 2, "date": 1, "utc": true}], "range": [0, 759]}, "axis": null},
     "x2": {"field": "d1"},
     "y": {"field": "hi", "type": "quantitative", "scale": {"domain": [1170.2, 1438.5], "zero": false, "nice": false}, "axis": null},
     "y2": {"field": "lo"}
    }},
   {"data": {"name": "notes"}, "transform": [{"filter": "datum.p == 'gbp' && datum.k == 'head'"}],
    "mark": {"type": "text", "align": "left", "baseline": "top", "dx": 4, "dy": 4, "fontSize": 11, "color": "#4F4F4F"},
    "encoding": {
     "x": {"field": "d0", "type": "temporal", "scale": {"type": "utc", "domain": [{"year": 2011, "month": 10, "date": 26, "utc": true}, {"year": 2013, "month": 2, "date": 1, "utc": true}], "range": [0, 759]}, "axis": null},
     "y": {"field": "hi", "type": "quantitative", "scale": {"domain": [1170.2, 1438.5], "zero": false, "nice": false}, "axis": null},
     "text": {"field": "t"}
    }}
  ]
 },
 {
  "width": 804, "height": 122,
  "encoding": {
   "x": {"field": "d", "type": "temporal", "scale": {"type": "utc", "domain": [{"year": 2011, "month": 10, "date": 26, "utc": true}, {"year": 2013, "month": 2, "date": 1, "utc": true}], "range": [0, 759]}, "axis": null},
   "y": {"field": "v", "type": "quantitative", "scale": {"domain": [979.4, 1229.4], "zero": false, "nice": false}, "axis": null}
  },
  "resolve": {"axis": {"x": "independent", "y": "independent"}},
  "layer": [
   {"data": {"name": "trend"}, "transform": [{"filter": "datum.p == 'eur' && datum.k == 'long'"}],
    "mark": {"type": "line", "color": "#FF8C1A", "strokeWidth": 1.5},
    "encoding": {
     "x": {"field": "d", "type": "temporal", "scale": {"type": "utc", "domain": [{"year": 2011, "month": 10, "date": 26, "utc": true}, {"year": 2013, "month": 2, "date": 1, "utc": true}], "range": [0, 759]},
      "axis": {"orient": "top", "values": {"expr": "gr"}, "grid": true, "gridColor": {"condition": {"test": "utcdate(datum.value) == 1", "value": "#CDCDCD"}, "value": "#CACACA"}, "gridDash": {"condition": {"test": "utcdate(datum.value) == 1", "value": []}, "value": [1, 2]}, "labels": false, "ticks": false, "domain": true, "domainColor": "#8A8A8A", "domainWidth": 2, "title": null}},
     "y": {"field": "v", "type": "quantitative", "scale": {"domain": [979.4, 1229.4], "zero": false, "nice": false},
      "axis": {"orient": "right", "offset": -22.5, "domain": true, "domainColor": "#F0F0F0", "domainWidth": 45, "labels": false, "ticks": false, "grid": false, "title": null}}
    }},
   {"data": {"name": "eur"},
    "mark": {"type": "line", "color": "#2525EE", "strokeWidth": 1.6},
    "encoding": {
     "x": {"field": "d", "type": "temporal", "scale": {"type": "utc", "domain": [{"year": 2011, "month": 10, "date": 26, "utc": true}, {"year": 2013, "month": 2, "date": 1, "utc": true}], "range": [0, 759]},
      "axis": {"orient": "bottom", "values": {"expr": "wk"}, "labelExpr": "'' + utcdate(datum.value)", "labelAlign": "center", "labelOffset": -3, "labelPadding": 4, "labelFontSize": 7, "labelColor": "#333333", "labelOverlap": false, "labelFlush": false, "labelBound": false, "ticks": false, "domain": true, "domainColor": "#9A9A9A", "domainDash": [1, 2], "grid": false, "title": null}},
     "y": {"field": "v", "type": "quantitative", "scale": {"domain": [979.4, 1229.4], "zero": false, "nice": false},
      "axis": {"orient": "right", "offset": -42, "values": [1000, 1050, 1100, 1150, 1200], "domain": false, "grid": false, "ticks": true, "tickSize": 3, "tickColor": "#333333", "labelPadding": 2, "labelFontSize": 7, "labelColor": "#222222", "labelExpr": "replace(format(datum.value, ',.2f'), ',', ' ')", "labelOverlap": false, "labelFlush": false, "title": null}}
    }},
   {"data": {"name": "trend"}, "transform": [{"filter": "datum.p == 'eur' && datum.k == 'short'"}],
    "mark": {"type": "line", "color": "#FF2020", "strokeWidth": 1.5},
    "encoding": {
     "x": {"field": "d", "type": "temporal", "scale": {"type": "utc", "domain": [{"year": 2011, "month": 10, "date": 26, "utc": true}, {"year": 2013, "month": 2, "date": 1, "utc": true}], "range": [0, 759]},
      "axis": {"orient": "bottom", "values": {"expr": "mo"}, "labelExpr": "'|' + utcFormat(datum.value, '%b %Y')", "labelAlign": "left", "labelPadding": 10, "labelFontSize": 7, "labelColor": "#333333", "labelOverlap": false, "labelFlush": false, "ticks": false, "domain": false, "grid": false, "title": null}},
     "y": {"field": "v", "type": "quantitative", "scale": {"domain": [979.4, 1229.4], "zero": false, "nice": false},
      "axis": {"orient": "left", "values": [1000, 1050, 1100, 1150, 1200], "grid": true, "gridColor": "#D4D4D4", "gridDash": [1, 2], "labels": false, "ticks": false, "domain": false, "title": null}}
    }},
   {"data": {"name": "trend"}, "transform": [{"filter": "datum.p == 'eur' && (datum.k == 'short' || time(datum.d) > time(datetime(2013, 0, 1)))"}],
    "mark": {"type": "square", "size": 18, "color": "#9FC8EE", "opacity": 0.9}},
   {"data": {"name": "notes"}, "transform": [{"filter": "datum.p == 'eur'"}],
    "mark": {"type": "rect", "fill": "#FAFAD4", "stroke": "#A9A9A9", "strokeWidth": 1},
    "encoding": {
     "x": {"field": "d0", "type": "temporal", "scale": {"type": "utc", "domain": [{"year": 2011, "month": 10, "date": 26, "utc": true}, {"year": 2013, "month": 2, "date": 1, "utc": true}], "range": [0, 759]}, "axis": null},
     "x2": {"field": "d1"},
     "y": {"field": "hi", "type": "quantitative", "scale": {"domain": [979.4, 1229.4], "zero": false, "nice": false}, "axis": null},
     "y2": {"field": "lo"}
    }},
   {"data": {"name": "notes"}, "transform": [{"filter": "datum.p == 'eur' && datum.k == 'head'"}],
    "mark": {"type": "text", "align": "left", "baseline": "top", "dx": 4, "dy": 4, "fontSize": 11, "color": "#4F4F4F"},
    "encoding": {
     "x": {"field": "d0", "type": "temporal", "scale": {"type": "utc", "domain": [{"year": 2011, "month": 10, "date": 26, "utc": true}, {"year": 2013, "month": 2, "date": 1, "utc": true}], "range": [0, 759]}, "axis": null},
     "y": {"field": "hi", "type": "quantitative", "scale": {"domain": [979.4, 1229.4], "zero": false, "nice": false}, "axis": null},
     "text": {"field": "t"}
    }}
  ]
 }
]
}
